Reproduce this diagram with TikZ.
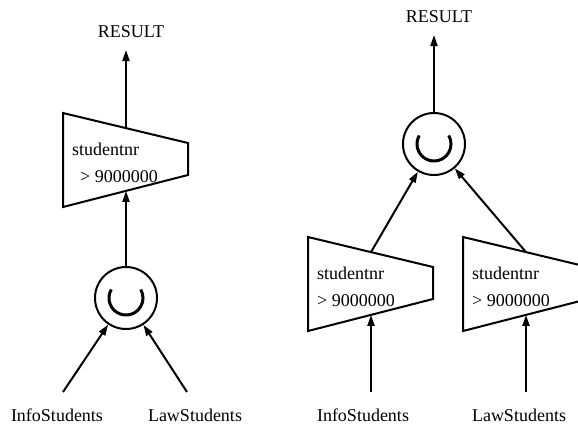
\documentclass[tikz,border=0pt]{standalone}
\usepackage{fontspec}
\setmainfont{Liberation Serif}
\usetikzlibrary{arrows.meta,calc}

\tikzset{
  boxline/.style={line width=2pt, line join=miter},
  lbl/.style={inner sep=0pt, font=\fontsize{18}{20}\selectfont},
  arr/.style={line width=2pt, -{Triangle[length=11pt,width=7pt]}},
  unionop/.style={circle, draw, line width=2pt, minimum size=62pt, inner sep=0pt},
  unionmark/.style={line width=3pt},
  % selection operator: trapezoid with the predicate written inside
  pics/selbox/.style={code={
    \draw[boxline] (0,0) -- (125,30) -- (125,62) -- (0,94) -- cycle;
    \coordinate (-top) at (63,15.1);
    \coordinate (-bot) at (63,77.9);
    \node[lbl, anchor=base west] (-attr) at (9,42) {studentnr};
    \node[lbl, anchor=base west] (-cond) at (#1,69) {> 9000000};
  }}
}

\begin{document}
\begin{tikzpicture}[x=1pt, y=-1pt]
  \fill[white] (0,0) rectangle (578,426);
  \clip (0,0) rectangle (578,426);

  % ---------- selection after union ----------
  \node[lbl, anchor=base] (resL) at (131,37) {RESULT};
  \coordinate (resLtip) at (126,50);
  \pic (sL) at (63,113) {selbox=17};
  \node[unionop] (uL) at (126,298) {};
  \draw[unionmark] ($(uL.center)+(210:17)$) arc[start angle=210, end angle=-30, radius=17];
  \node[lbl, anchor=base] (infoL) at (57,421) {InfoStudents};
  \node[lbl, anchor=base] (lawL) at (195,421) {LawStudents};
  \coordinate (infoLstart) at (63,392);
  \coordinate (lawLstart) at (187,392);

  \draw[arr] (sL-top) -- (resLtip);
  \draw[arr] (uL) -- (sL-bot);
  \draw[arr] (infoLstart) -- (uL);
  \draw[arr] (lawLstart) -- (uL);

  % ---------- union after selections ----------
  \node[lbl, anchor=base] (resR) at (439,22) {RESULT};
  \coordinate (resRtip) at (434,35);
  \node[unionop] (uR) at (434,144) {};
  \draw[unionmark] ($(uR.center)+(210:17)$) arc[start angle=210, end angle=-30, radius=17];
  \pic (sR1) at (308,237) {selbox=9};
  \pic (sR2) at (463,237) {selbox=9};
  \node[lbl, anchor=base] (infoR) at (363,421) {InfoStudents};
  \node[lbl, anchor=base] (lawR) at (519,421) {LawStudents};
  \coordinate (infoRstart) at (371,392);
  \coordinate (lawRstart) at (526,392);

  \draw[arr] (uR) -- (resRtip);
  \draw[arr] (sR1-top) -- (uR);
  \draw[arr] (sR2-top) -- (uR);
  \draw[arr] (infoRstart) -- (sR1-bot);
  \draw[arr] (lawRstart) -- (sR2-bot);
\end{tikzpicture}
\end{document}
